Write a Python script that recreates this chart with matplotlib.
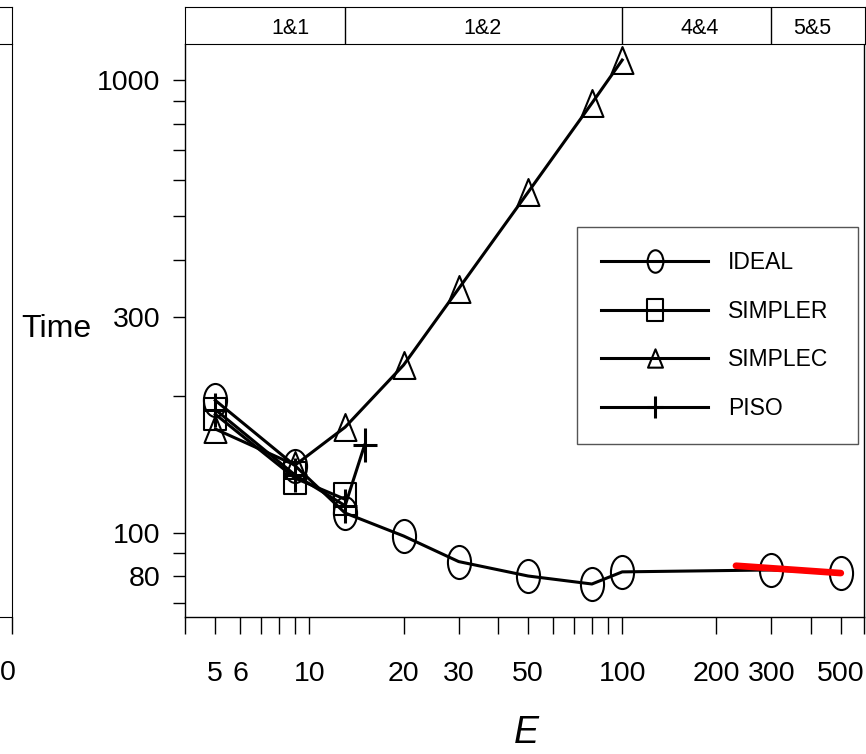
import numpy as np
import matplotlib
matplotlib.use('Agg')
import matplotlib.pyplot as plt
from matplotlib.path import Path
from matplotlib import font_manager
from matplotlib.ticker import FixedLocator, FixedFormatter, NullLocator

names = {f.name for f in font_manager.fontManager.ttflist}
NARROW = 'Liberation Sans Narrow' in names
if NARROW:
    FAM = ['Liberation Sans Narrow', 'Liberation Sans', 'DejaVu Sans']
    K = 1.2
else:
    FAM = ['Liberation Sans', 'DejaVu Sans']
    K = 1.0
plt.rcParams['font.family'] = FAM

# ---------------- data ----------------
ideal_x = [5, 9, 13, 20, 30, 50, 80, 100, 300, 500]
ideal_y = [196, 140.5, 110.5, 98.3, 86.3, 80.2, 77.0, 81.9, 82.7, 81.3]
simpler_x = [5, 9, 13]
simpler_y = [182.6, 131.9, 118.5]
simplec_x = [5, 9, 13, 20, 30, 50, 80, 100]
simplec_y = [169.4, 141, 171, 234.6, 346, 565, 889, 1107]
piso_x = [5, 9, 13, 15]
piso_y = [187, 134, 114.7, 156]
red_x = [231, 500]
red_y = [84.5, 81.4]

series_names = ['IDEAL', 'SIMPLER', 'SIMPLEC', 'PISO']
band_labels = ['1&1', '1&2', '4&4', '5&5']
band_edges = [13, 100, 300]
band_label_x = [8.7, 35.8, 177, 406]

XMIN, XMAX = 4, 593
YMIN, YMAX = 65.2, 1203
xtick_pos = [4, 5, 6, 7, 8, 9, 10, 20, 30, 40, 50, 60, 70, 80, 90, 100,
             200, 300, 400, 500, XMAX]
xtick_lab = ['', '5', '6', '', '', '', '10', '20', '30', '', '50', '', '', '', '',
             '100', '200', '300', '', '500', '']
ytick_pos = [70, 80, 90, 100, 200, 300, 400, 500, 600, 700, 800, 900, 1000]
ytick_lab = ['', '80', '', '100', '', '300', '', '', '', '', '', '', '1000']

# ---------------- markers ----------------
uc = Path.unit_circle()
ellipse = Path(uc.vertices * np.array([0.35, 0.5]), uc.codes)
rect = Path([(-0.36, -0.5), (0.36, -0.5), (0.36, 0.5), (-0.36, 0.5), (-0.36, -0.5)],
            [Path.MOVETO, Path.LINETO, Path.LINETO, Path.LINETO, Path.CLOSEPOLY])
tri = Path([(0, 0.5), (-0.407, -0.5), (0.407, -0.5), (0, 0.5)],
           [Path.MOVETO, Path.LINETO, Path.LINETO, Path.CLOSEPOLY])
plus = Path([(0, -0.5), (0, 0.5), (-0.35, 0), (0.35, 0)],
            [Path.MOVETO, Path.LINETO, Path.MOVETO, Path.LINETO])

W, H = 866, 754
fig = plt.figure(figsize=(W / 100, H / 100), dpi=100)


def fx(px):
    return px / W


def fy(py):
    return 1 - py / H


AX_L, AX_R, AX_T, AX_B, HD_T = 185, 864, 43.7, 616.7, 6.7
TICK_FS = 20.5 * K


def setup_xaxis(a, labels):
    a.set_xscale('log')
    a.set_xlim(XMIN, XMAX)
    a.xaxis.set_major_locator(FixedLocator(xtick_pos))
    a.xaxis.set_major_formatter(FixedFormatter(labels))
    a.xaxis.set_minor_locator(NullLocator())
    a.tick_params(axis='x', direction='out', length=12, width=1, pad=20,
                  labelsize=TICK_FS, colors='black')


# remnant of a neighbouring panel at the left edge
LW = AX_R - AX_L
axL = fig.add_axes([fx(11.7 - LW), fy(AX_B), fx(LW), (AX_B - AX_T) / H])
setup_xaxis(axL, [''] * len(xtick_pos))
axL.set_yscale('log')
axL.set_ylim(YMIN, YMAX)
axL.yaxis.set_major_locator(NullLocator())
axL.yaxis.set_minor_locator(NullLocator())
axL.spines['top'].set_visible(False)
hdL = fig.add_axes([fx(11.7 - LW), fy(AX_T), fx(LW), (AX_T - HD_T) / H])
hdL.set_xticks([])
hdL.set_yticks([])
fig.text(fx(0), fy(673), '0', ha='left', va='center', fontsize=TICK_FS)

# main panel
ax = fig.add_axes([fx(AX_L), fy(AX_B), fx(LW), (AX_B - AX_T) / H])
setup_xaxis(ax, xtick_lab)
ax.set_yscale('log')
ax.set_ylim(YMIN, YMAX)
ax.yaxis.set_major_locator(FixedLocator(ytick_pos))
ax.yaxis.set_major_formatter(FixedFormatter(ytick_lab))
ax.yaxis.set_minor_locator(NullLocator())
ax.tick_params(axis='y', direction='out', length=8.6, width=1, pad=9,
               labelsize=TICK_FS, colors='black')
ax.spines['top'].set_visible(False)
for s in ['left', 'right', 'bottom']:
    ax.spines[s].set_linewidth(1.0)

lw = 2.2
mew = 1.5
h1, = ax.plot(ideal_x, ideal_y, color='black', lw=lw, marker=ellipse, ms=23.8,
              mfc='none', mec='black', mew=mew, label=series_names[0])
h2, = ax.plot(simpler_x, simpler_y, color='black', lw=lw, marker=rect, ms=23.0,
              mfc='none', mec='black', mew=mew, label=series_names[1])
h3, = ax.plot(simplec_x, simplec_y, color='black', lw=lw, marker=tri, ms=19.4,
              mfc='none', mec='black', mew=mew, label=series_names[2])
h4, = ax.plot(piso_x, piso_y, color='black', lw=lw, marker=plus, ms=23.8,
              mfc='none', mec='black', mew=2.2, label=series_names[3])
ax.plot(red_x, red_y, color='#ff0000', lw=4.8, solid_capstyle='round', zorder=5)

ax.set_ylabel('Time', fontsize=23 * K, rotation=0, ha='center', va='center')
ax.yaxis.set_label_coords((56 - AX_L) / LW, (AX_B - 329) / (AX_B - AX_T))
ax.set_xlabel('E', fontsize=27 * K, style='italic')
ax.xaxis.set_label_coords((526 - AX_L) / LW, (AX_B - 733) / (AX_B - AX_T))
ax.xaxis.label.set_va('center')

LEG_FS = 16.5 * K
leg = ax.legend(handles=[h1, h2, h3, h4], labels=series_names,
                loc='upper left',
                bbox_to_anchor=((577 - AX_L) / LW, (AX_B - 227) / (AX_B - AX_T),
                                (858 - 577) / LW, 0.0),
                mode='expand', borderaxespad=0, fontsize=LEG_FS,
                handlelength=4.67 / K, handletextpad=0.87 / K,
                labelspacing=1.11 / K, borderpad=1.06 / K,
                markerscale=0.68, fancybox=False,
                framealpha=1, edgecolor='#555555')
leg.get_frame().set_linewidth(1.0)

# header band
hd = fig.add_axes([fx(AX_L), fy(AX_T), fx(AX_R + 1 - AX_L), (AX_T - HD_T) / H])
hd.set_xscale('log')
hd.set_xlim(XMIN, XMAX * 10 ** (1 / 313))
hd.set_ylim(0, 1)
hd.xaxis.set_major_locator(NullLocator())
hd.xaxis.set_minor_locator(NullLocator())
hd.set_yticks([])
for e in band_edges:
    hd.axvline(e, color='black', lw=1.0)
for lab, xp in zip(band_labels, band_label_x):
    hd.text(xp, 0.42, lab, ha='center', va='center', fontsize=15.5 * K)

fig.savefig('out.png', dpi=100)
